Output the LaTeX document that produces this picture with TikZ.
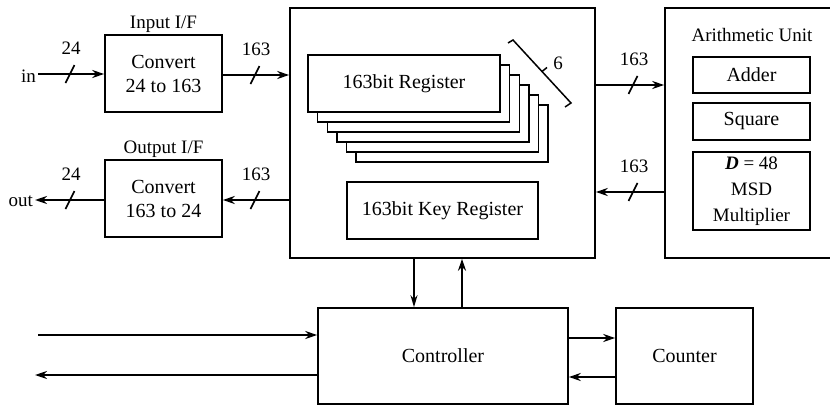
\documentclass[tikz,border=0pt]{standalone}
\usepackage{fontspec}
\setmainfont{Liberation Serif}
\usetikzlibrary{arrows.meta,calc}
\begin{document}
\begin{tikzpicture}[x=1pt,y=-1pt,
  box/.style={draw,line width=1.6pt,fill=white,rectangle,inner sep=0pt,align=center,font=\fontsize{20}{24}\selectfont},
  sub/.style={box,line width=1.4pt},
  conn/.style={line width=2pt,-{Stealth[length=12pt,width=8pt]}},
  thin conn/.style={line width=1.5pt,-{Stealth[length=12pt,width=7pt]}},
  lbl/.style={font=\fontsize{19}{22}\selectfont,inner sep=0pt},
  slash/.style={line width=1.6pt}]
\clip (0,0) rectangle (830,407);
\useasboundingbox (0,0) rectangle (830,407);
% boxes
\node[box,minimum width=117pt,minimum height=77pt] (inif) at (163.5,73.5) {Convert\\24 to 163};
\node[lbl,anchor=base] (inifl) at (163.5,28) {Input I/F};
\node[box,minimum width=117pt,minimum height=77pt] (outif) at (163.5,198.5) {Convert\\163 to 24};
\node[lbl,anchor=base] (outifl) at (163.5,153) {Output I/F};
\node[box,minimum width=305pt,minimum height=250pt] (main) at (442.5,133) {};
\node[box,minimum width=180pt,minimum height=250pt] (arith) at (755,133) {};
\node[lbl,anchor=base] (arithl) at (752,41) {Arithmetic Unit};
\node[sub,minimum width=117pt,minimum height=36pt] (adder) at (751.5,75) {Adder};
\node[sub,minimum width=117pt,minimum height=37pt] (square) at (751.5,121.5) {Square};
\node[sub,minimum width=117pt,minimum height=78pt,font=\fontsize{19}{26}\selectfont] (mult) at (751.5,191) {\textbf{\textit{D}} = 48\\MSD\\Multiplier};
% registers stack
\foreach \i in {5,4,3,2,1}{
  \node[sub,minimum width=192pt,minimum height=57pt] (reg\i) at ($(404,83.5)+(9.6*\i,10*\i)$) {};
}
\node[sub,minimum width=192pt,minimum height=57pt] (reg0) at (404,83.5) {163bit Register};
\node[sub,minimum width=191pt,minimum height=57pt] (key) at (442.5,210.5) {163bit Key Register};
\node[box,minimum width=250pt,minimum height=96pt] (ctrl) at (443,356) {Controller};
\node[box,minimum width=137pt,minimum height=96pt] (cnt) at (684.5,356) {Counter};
% brace
\coordinate (b1) at (508,43);
\coordinate (b2) at (513,40);
\coordinate (b3) at (571,103);
\coordinate (b4) at (565,107);
\draw[line width=1.5pt] (b1) -- (b2) -- (b3) -- (b4);
\draw[line width=1.5pt] ($(b2)!0.5!(b3)$) -- ++(5,-4);
\node[lbl,anchor=base] (six) at (558,69) {6};
% input/output
\node[lbl,anchor=east] (in) at (36,76) {in};
\node[lbl,anchor=east] (out) at (33,201) {out};
\coordinate (inS) at (38,74);
\coordinate (outE) at (35,200);
\draw[conn] (inS) -- (inS -| inif.west);
\draw[conn] (inif.east |- 0,75) -- (main.west |- 0,75);
\draw[conn] (main.west |- 0,200) -- (outif.east |- 0,200);
\draw[conn] (outif.west |- 0,200) -- (outE);
\draw[conn] (main.east |- 0,85) -- (arith.west |- 0,85);
\draw[conn] (arith.west |- 0,192) -- (main.east |- 0,192);
% slashes and labels
\foreach \x/\y/\t in {70/74/24, 255/75/163, 70/200/24, 255/200/163, 633/85/163, 633/192/163}{
  \draw[slash] (\x-4.5,\y+9) -- (\x+4.5,\y-9);
  \node[lbl,anchor=base] at (\x+1,\y-20) {\t};
}
% controller links
\draw[thin conn] (main.south -| 414,0) -- (ctrl.north -| 414,0);
\draw[conn] (ctrl.north -| 462,0) -- (main.south -| 462,0);
\coordinate (cinS) at (38,335);
\coordinate (coutE) at (35,375);
\draw[conn] (cinS) -- (cinS -| ctrl.west);
\draw[conn] (ctrl.west |- 0,375) -- (coutE);
\draw[conn,line width=2.5pt] (ctrl.east |- 0,338) -- (cnt.west |- 0,338);
\draw[conn,line width=2.5pt] (cnt.west |- 0,377) -- (ctrl.east |- 0,377);
\end{tikzpicture}
\end{document}
